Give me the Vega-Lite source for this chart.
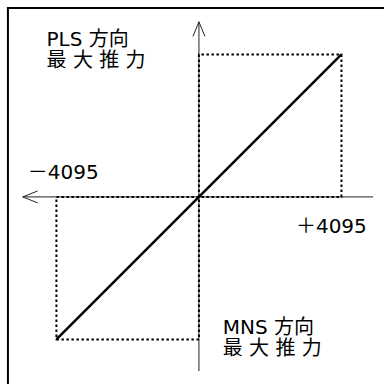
{
  "$schema": "https://vega.github.io/schema/vega-lite/v6.json",
  "width": 387,
  "height": 387,
  "autosize": {"type": "fit", "contains": "padding"},
  "padding": 0,
  "background": "white",
  "config": {"view": {"stroke": null}},
  "encoding": {
    "x": {"field": "x", "type": "quantitative", "scale": {"domain": [-5716, 5289], "nice": false, "zero": false}, "axis": null},
    "y": {"field": "y", "type": "quantitative", "scale": {"domain": [-130.6, 138.2], "nice": false, "zero": false}, "axis": null}
  },
  "layer": [
    {
      "data": {"values": [
        {"g": "top", "i": 0, "x": -5488, "y": 132.6},
        {"g": "top", "i": 1, "x": 5289, "y": 132.6},
        {"g": "left", "i": 0, "x": -5488, "y": 132.6},
        {"g": "left", "i": 1, "x": -5488, "y": -130.6}
      ]},
      "mark": {"type": "line", "color": "black", "strokeWidth": 2, "strokeCap": "square"},
      "encoding": {"detail": {"field": "g"}, "order": {"field": "i"}}
    },
    {
      "data": {"values": [
        {"g": "h", "i": 0, "x": -5062, "y": 0},
        {"g": "h", "i": 1, "x": 5005, "y": 0},
        {"g": "v", "i": 0, "x": 0, "y": 122.9},
        {"g": "v", "i": 1, "x": 0, "y": -122.2},
        {"g": "la", "i": 0, "x": -4635, "y": 4.17},
        {"g": "la", "i": 1, "x": -5062, "y": 0},
        {"g": "la", "i": 2, "x": -4635, "y": -4.17},
        {"g": "ua", "i": 0, "x": -171, "y": 112.7},
        {"g": "ua", "i": 1, "x": 0, "y": 122.9},
        {"g": "ua", "i": 2, "x": 171, "y": 112.7}
      ]},
      "mark": {"type": "line", "color": "#222222", "strokeWidth": 1},
      "encoding": {"detail": {"field": "g"}, "order": {"field": "i"}}
    },
    {
      "data": {"values": [
        {"g": "pos", "i": 0, "x": 0, "y": 0},
        {"g": "pos", "i": 1, "x": 0, "y": 100},
        {"g": "pos", "i": 2, "x": 4095, "y": 100},
        {"g": "pos", "i": 3, "x": 4095, "y": 0},
        {"g": "pos", "i": 4, "x": 0, "y": 0},
        {"g": "neg", "i": 0, "x": 0, "y": 0},
        {"g": "neg", "i": 1, "x": -4095, "y": 0},
        {"g": "neg", "i": 2, "x": -4095, "y": -100},
        {"g": "neg", "i": 3, "x": 0, "y": -100},
        {"g": "neg", "i": 4, "x": 0, "y": 0}
      ]},
      "mark": {"type": "line", "color": "black", "strokeWidth": 2, "strokeDash": [2.5, 2.5]},
      "encoding": {"detail": {"field": "g"}, "order": {"field": "i"}}
    },
    {
      "data": {"values": [
        {"i": 0, "x": -4095, "y": -100},
        {"i": 1, "x": 4095, "y": 100}
      ]},
      "mark": {"type": "line", "color": "black", "strokeWidth": 2.5},
      "encoding": {"order": {"field": "i"}}
    },
    {
      "data": {"values": [
        {"x": -4379, "y": 105.6, "label": ["PLS 方向", "最 大 推 力"]},
        {"x": -4920, "y": 12.5, "label": ["－4095"]},
        {"x": 2787, "y": -25.0, "label": ["＋4095"]},
        {"x": 682, "y": -96.5, "label": ["MNS 方向", "最 大 推 力"]}
      ]},
      "mark": {"type": "text", "align": "left", "baseline": "alphabetic", "fontSize": 20, "lineHeight": 21, "font": "DejaVu Sans, Noto Sans CJK JP", "color": "black"},
      "encoding": {"text": {"field": "label"}}
    }
  ]
}
